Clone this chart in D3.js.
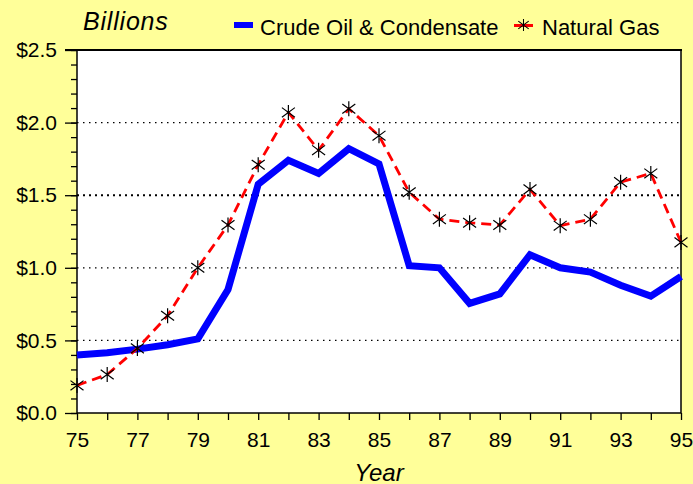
<!DOCTYPE html>
<html>
<head>
<meta charset="utf-8">
<script src="https://cdn.jsdelivr.net/npm/d3@7"></script>
<style>
  body { margin: 0; background: #ffff99; }
  svg { display: block; font-family: "Liberation Sans", Arial, sans-serif; }
</style>
</head>
<body>
<svg></svg>
<script>
var years = [75,76,77,78,79,80,81,82,83,84,85,86,87,88,89,90,91,92,93,94,95];
var crudeOil = [0.40,0.415,0.44,0.47,0.51,0.85,1.575,1.74,1.65,1.82,1.715,1.015,1.00,0.755,0.82,1.09,1.00,0.97,0.88,0.805,0.94];
var naturalGas = [0.19,0.265,0.445,0.67,1.00,1.295,1.71,2.07,1.81,2.095,1.91,1.52,1.335,1.31,1.295,1.54,1.29,1.335,1.59,1.65,1.175];
var yTicks = [0, 0.5, 1.0, 1.5, 2.0, 2.5];
var xTickLabels = [75,77,79,81,83,85,87,89,91,93,95];
var gridValues = [0.5, 1.0, 1.5, 2.0];

var svgWidth = 693, svgHeight = 484;
var plotLeft = 77, plotRight = 681, plotTop = 50, plotBottom = 413;

var svg = d3.select('svg')
  .attr('width', svgWidth)
  .attr('height', svgHeight);

var xScale = d3.scaleLinear().domain([75, 95]).range([plotLeft, plotRight]);
var yScale = d3.scaleLinear().domain([0, 2.5]).range([plotBottom, plotTop]);

// plot background
svg.append('rect')
  .attr('x', plotLeft).attr('y', plotTop)
  .attr('width', plotRight - plotLeft).attr('height', plotBottom - plotTop)
  .attr('fill', '#ffffff');

// dotted grid
svg.append('g').selectAll('line')
  .data(gridValues)
  .enter()
  .append('line')
  .attr('x1', plotLeft).attr('x2', plotRight)
  .attr('y1', function(d){ return yScale(d); })
  .attr('y2', function(d){ return yScale(d); })
  .attr('stroke', '#000')
  .attr('stroke-width', function(d){ return d == 1.5 ? 2 : 1.2; })
  .attr('stroke-dasharray', function(d){ return d == 1.5 ? '2,4' : '1.5,4.5'; });

// y axis with minor ticks
var yAxis = d3.axisLeft(yScale)
  .tickValues(d3.range(0, 26).map(function(i){ return i / 10; }))
  .tickSize(6)
  .tickFormat('');
svg.append('g')
  .attr('transform', 'translate(' + plotLeft + ',0)')
  .call(yAxis)
  .call(function(g){ g.select('.domain').remove(); });

var yMajor = d3.axisLeft(yScale)
  .tickValues(yTicks)
  .tickSize(12)
  .tickPadding(8)
  .tickFormat(function(d){ return '$' + d3.format('.1f')(d); });
svg.append('g')
  .attr('transform', 'translate(' + plotLeft + ',0)')
  .call(yMajor)
  .call(function(g){ g.select('.domain').remove(); });

// x axis
var xAxis = d3.axisBottom(xScale)
  .tickValues(years)
  .tickSize(7)
  .tickPadding(12)
  .tickFormat(function(d){ return xTickLabels.indexOf(d) >= 0 ? d : ''; });
svg.append('g')
  .attr('transform', 'translate(0,' + plotBottom + ')')
  .call(xAxis)
  .call(function(g){ g.select('.domain').remove(); });

svg.selectAll('.tick text')
  .attr('font-size', 21)
  .attr('font-family', '"Liberation Sans", Arial, sans-serif')
  .attr('fill', '#000');
svg.selectAll('.tick line').attr('stroke', '#000').attr('stroke-width', 1.3);

// frame
svg.append('line').attr('x1', plotLeft).attr('x2', plotLeft).attr('y1', plotTop).attr('y2', plotBottom)
  .attr('stroke', '#000').attr('stroke-width', 1.5);
svg.append('line').attr('x1', plotLeft).attr('x2', plotRight).attr('y1', plotBottom).attr('y2', plotBottom)
  .attr('stroke', '#000').attr('stroke-width', 1.5);
svg.append('line').attr('x1', plotRight).attr('x2', plotRight).attr('y1', plotTop).attr('y2', plotBottom)
  .attr('stroke', '#000').attr('stroke-width', 1.5);
svg.append('line').attr('x1', plotLeft - 12).attr('x2', plotRight + 1).attr('y1', plotTop).attr('y2', plotTop)
  .attr('stroke', '#000').attr('stroke-width', 2.2);

// series
var seriesLine = d3.line()
  .x(function(d, i){ return xScale(years[i]); })
  .y(function(d){ return yScale(d); });

svg.append('path')
  .datum(crudeOil)
  .attr('d', seriesLine)
  .attr('fill', 'none')
  .attr('stroke', '#0000ff')
  .attr('stroke-width', 7);

svg.append('path')
  .datum(naturalGas)
  .attr('d', seriesLine)
  .attr('fill', 'none')
  .attr('stroke', '#ff0000')
  .attr('stroke-width', 2.8)
  .attr('stroke-dasharray', '10,6');

var asterisk = 'M0,-7.5L0,7.5M-6.5,-4.8L6.5,4.8M-6.5,4.8L6.5,-4.8';

svg.append('g').selectAll('path')
  .data(naturalGas)
  .enter()
  .append('path')
  .attr('d', asterisk)
  .attr('transform', function(d, i){
    return 'translate(' + xScale(years[i]) + ',' + yScale(d) + ')';
  })
  .attr('fill', 'none')
  .attr('stroke', '#000')
  .attr('stroke-width', 1.2);

// titles and legend
svg.append('text')
  .attr('x', 83).attr('y', 30)
  .attr('font-size', 25)
  .attr('letter-spacing', 0.8)
  .attr('font-style', 'italic')
  .text('Billions');

svg.append('text')
  .attr('x', (plotLeft + plotRight) / 2).attr('y', 481)
  .attr('text-anchor', 'middle')
  .attr('font-size', 24)
  .attr('font-style', 'italic')
  .text('Year');

var legend = svg.append('g');
legend.append('rect')
  .attr('x', 234).attr('y', 22)
  .attr('width', 19).attr('height', 6)
  .attr('fill', '#0000ff');
legend.append('text')
  .attr('x', 260).attr('y', 35)
  .attr('font-size', 22)
  .text('Crude Oil & Condensate');
legend.append('line')
  .attr('x1', 514).attr('x2', 533).attr('y1', 25.5).attr('y2', 25.5)
  .attr('stroke', '#ff0000').attr('stroke-width', 3);
legend.append('path')
  .attr('d', asterisk)
  .attr('transform', 'translate(523.5,25) scale(0.8)')
  .attr('fill', 'none')
  .attr('stroke', '#000')
  .attr('stroke-width', 1.3);
legend.append('text')
  .attr('x', 542).attr('y', 35)
  .attr('font-size', 22)
  .text('Natural Gas');
</script>
</body>
</html>
